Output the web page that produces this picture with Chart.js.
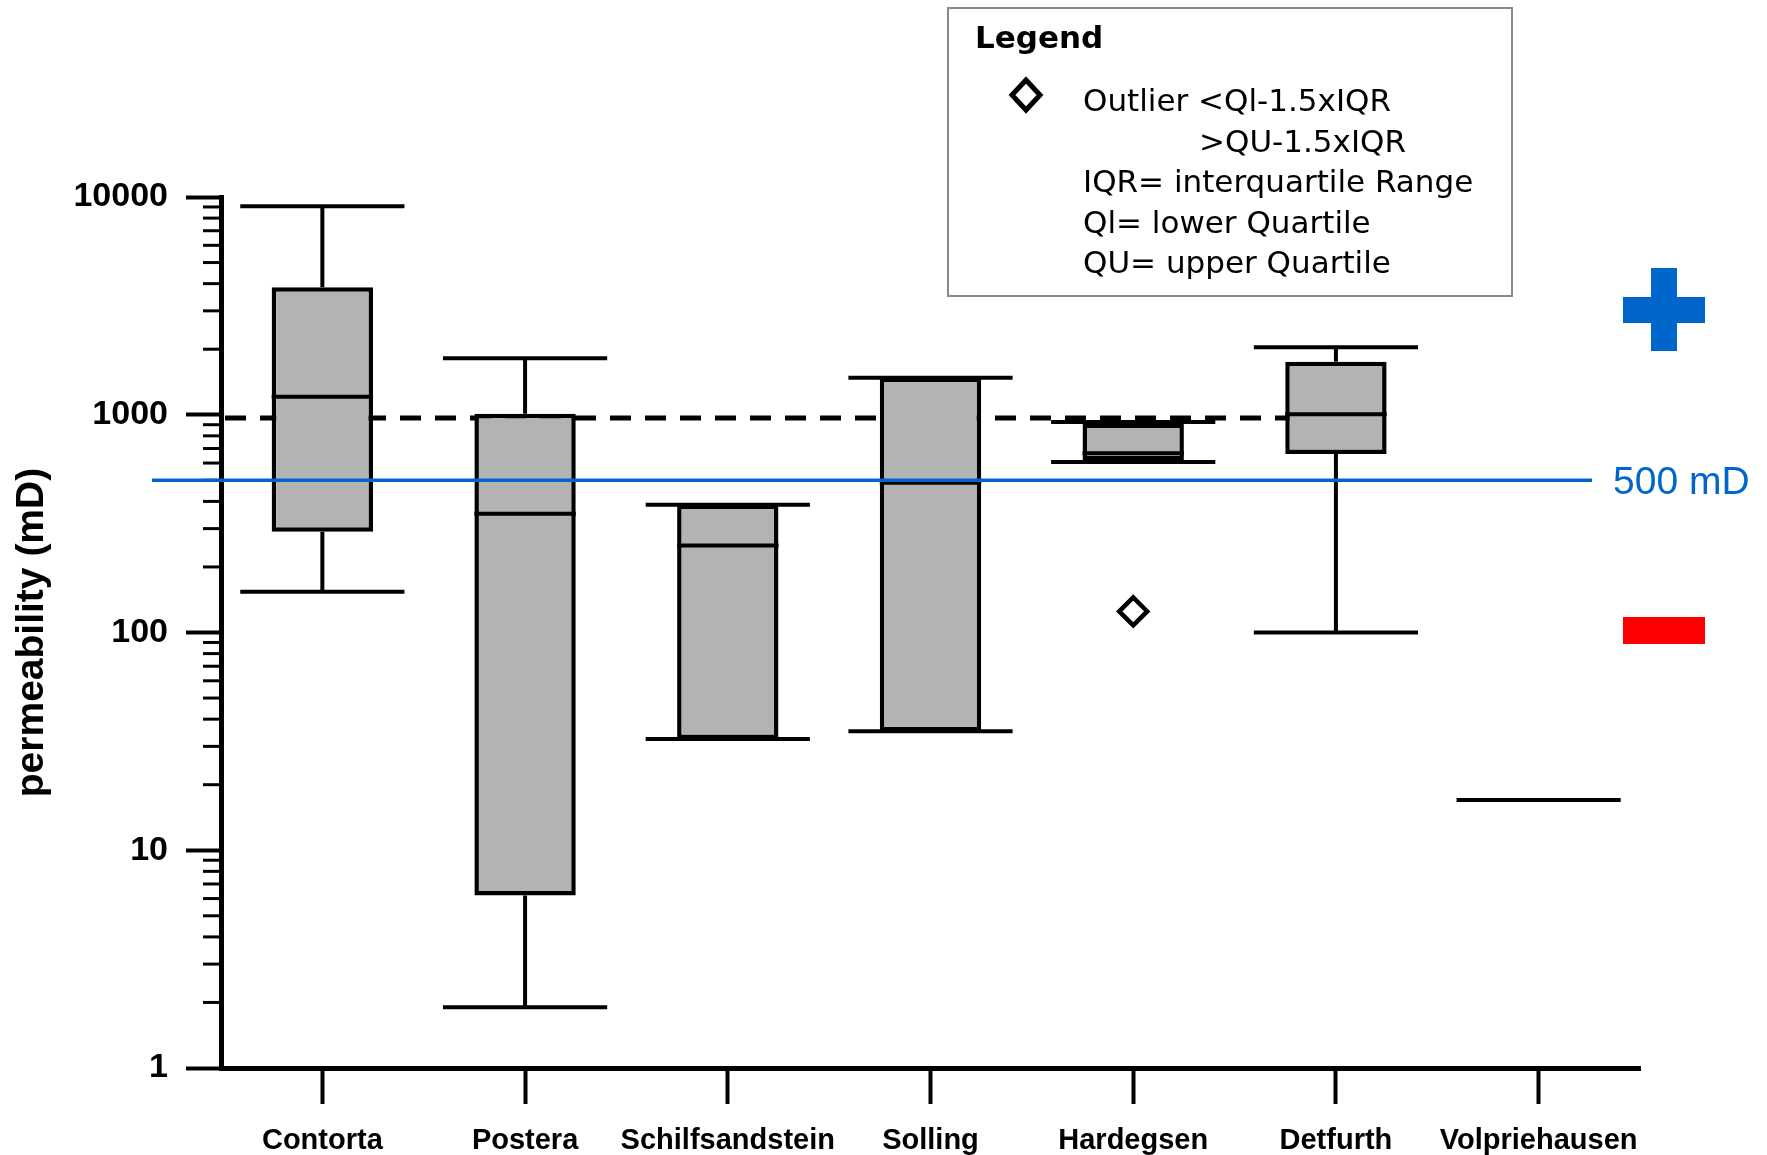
<!DOCTYPE html>
<html>
<head>
    <title>Permeability box plot</title>
    <script src="https://cdn.jsdelivr.net/npm/chart.js"></script>
    <style>
        body { margin: 0; background: #fff; }
    </style>
</head>
<body>
    <canvas id="permChart" width="1767" height="1155"></canvas>

    <script>
        // Formations on the x axis
        const categories = ['Contorta', 'Postera', 'Schilfsandstein', 'Solling', 'Hardegsen', 'Detfurth', 'Volpriehausen'];

        // Box plot statistics (mD)
        const whiskerLow  = [154, 1.9, 32.4, 35.2, 606, 100, 17];
        const lowerQuart  = [290, 6.2, 32.4, 35.2, 616, 661, null];
        const medians     = [1210, 351, 251, 487, 665, 1004, 17];
        const upperQuart  = [3850, 1010, 386, 1480, 910, 1753, null];
        const whiskerHigh = [9060, 1816, 386, 1480, 927, 2042, 17];
        const outliers    = [null, null, null, null, 125, null, null];

        // y axis tick labels (log scale)
        const yTicks = [1, 10, 100, 1000, 10000];

        // reference lines
        const dashedLevel = 965;
        const cutoffLevel = 500;
        const cutoffLabel = '500 mD';

        // legend text
        const legendTitle = 'Legend';
        const legendLines = [
            ['Outlier <Ql-1.5xIQR', 0],
            ['>QU-1.5xIQR', 1],
            ['IQR= interquartile Range', 0],
            ['Ql= lower Quartile', 0],
            ['QU= upper Quartile', 0]
        ];

        const boxPlugin = {
            id: 'boxWhiskers',
            beforeDatasetsDraw(chart) {
                const ctx = chart.ctx;
                const x = chart.scales.x, y = chart.scales.y;
                // dashed line runs under the boxes, up to Detfurth
                const yy = y.getPixelForValue(dashedLevel);
                ctx.save();
                ctx.strokeStyle = '#000';
                ctx.lineWidth = 5;
                ctx.setLineDash([21, 14]);
                ctx.beginPath();
                ctx.moveTo(chart.chartArea.left + 4, yy);
                ctx.lineTo(x.getPixelForValue(5), yy);
                ctx.stroke();
                ctx.restore();
            },
            afterDatasetsDraw(chart) {
                const ctx = chart.ctx;
                const x = chart.scales.x, y = chart.scales.y;
                const step = x.getPixelForValue(1) - x.getPixelForValue(0);
                const capHalf = step * 0.405;
                const boxHalf = step * 0.25;
                ctx.save();
                ctx.strokeStyle = '#000';
                ctx.lineCap = 'butt';
                categories.forEach((c, i) => {
                    const cx = x.getPixelForValue(i);
                    const lo = y.getPixelForValue(whiskerLow[i]);
                    const hi = y.getPixelForValue(whiskerHigh[i]);
                    const q1 = lowerQuart[i] == null ? lo : y.getPixelForValue(lowerQuart[i]);
                    const q3 = upperQuart[i] == null ? hi : y.getPixelForValue(upperQuart[i]);
                    ctx.lineWidth = 4;
                    ctx.beginPath();
                    ctx.moveTo(cx, q3); ctx.lineTo(cx, hi);
                    ctx.moveTo(cx, q1); ctx.lineTo(cx, lo);
                    ctx.stroke();
                    ctx.beginPath();
                    ctx.moveTo(cx - capHalf, hi); ctx.lineTo(cx + capHalf, hi);
                    ctx.moveTo(cx - capHalf, lo); ctx.lineTo(cx + capHalf, lo);
                    ctx.stroke();
                    if (lowerQuart[i] != null) {
                        const m = y.getPixelForValue(medians[i]);
                        ctx.beginPath();
                        ctx.moveTo(cx - boxHalf, m); ctx.lineTo(cx + boxHalf, m);
                        ctx.stroke();
                    }
                });
                ctx.restore();
            },
            afterDraw(chart) {
                const ctx = chart.ctx;
                const y = chart.scales.y;
                const area = chart.chartArea;
                ctx.save();

                // minor ticks on the log axis
                ctx.strokeStyle = '#000';
                ctx.lineWidth = 3;
                for (let d = 1; d < 10000; d *= 10) {
                    for (let k = 2; k <= 9; k++) {
                        const py = y.getPixelForValue(k * d);
                        ctx.beginPath();
                        ctx.moveTo(area.left - 18, py);
                        ctx.lineTo(area.left, py);
                        ctx.stroke();
                    }
                }

                // 500 mD cutoff line
                const cy = y.getPixelForValue(cutoffLevel);
                ctx.strokeStyle = '#0066cc';
                ctx.lineWidth = 3.5;
                ctx.beginPath();
                ctx.moveTo(152, cy);
                ctx.lineTo(1592, cy);
                ctx.stroke();
                ctx.fillStyle = '#0066cc';
                ctx.font = '39px "Liberation Sans", Arial, sans-serif';
                ctx.textBaseline = 'alphabetic';
                ctx.fillText(cutoffLabel, 1613, cy + 14);

                // plus / minus markers
                ctx.fillStyle = '#0066cc';
                ctx.fillRect(1623, 297, 82, 26);
                ctx.fillRect(1651, 268, 26, 83);
                ctx.fillStyle = '#ff0000';
                ctx.fillRect(1623, 617, 82, 27);

                // legend box
                ctx.strokeStyle = '#8a8a8a';
                ctx.lineWidth = 2;
                ctx.strokeRect(948, 8, 564, 288);
                ctx.fillStyle = '#000';
                ctx.font = 'bold 31px "DejaVu Sans", sans-serif';
                ctx.fillText(legendTitle, 975, 48);
                ctx.font = '31px "DejaVu Sans", sans-serif';
                legendLines.forEach((l, i) => {
                    ctx.fillText(l[0], l[1] ? 1199 : 1083, 111 + i * 40.6);
                });
                // legend diamond
                ctx.strokeStyle = '#000';
                ctx.lineWidth = 5;
                ctx.fillStyle = '#fff';
                ctx.beginPath();
                ctx.moveTo(1026, 80); ctx.lineTo(1040, 95);
                ctx.lineTo(1026, 110); ctx.lineTo(1012, 95);
                ctx.closePath();
                ctx.fill(); ctx.stroke();

                ctx.restore();
            }
        };

        const ctx = document.getElementById('permChart').getContext('2d');
        new Chart(ctx, {
            type: 'bar',
            data: {
                labels: categories,
                datasets: [{
                    label: 'box',
                    data: lowerQuart.map((v, i) => v == null ? null : [v, upperQuart[i]]),
                    backgroundColor: '#b3b3b3',
                    borderColor: '#000',
                    borderWidth: 4.5,
                    borderSkipped: false,
                    barPercentage: 0.5,
                    categoryPercentage: 1.0,
                    order: 2
                }, {
                    type: 'line',
                    label: 'outliers',
                    data: outliers,
                    showLine: false,
                    pointStyle: 'rectRot',
                    pointRadius: 14,
                    pointBorderWidth: 4.5,
                    pointBackgroundColor: '#fff',
                    pointBorderColor: '#000',
                    order: 1
                }]
            },
            options: {
                responsive: false,
                animation: false,
                layout: { padding: { top: 197, right: 127, left: 0, bottom: 0 } },
                plugins: {
                    legend: { display: false },
                    tooltip: { enabled: false }
                },
                scales: {
                    x: {
                        type: 'category',
                        offset: true,
                        afterFit: (scale) => { scale.height = 87; },
                        grid: {
                            display: true,
                            offset: false,
                            drawOnChartArea: false,
                            drawTicks: true,
                            tickLength: 36,
                            tickWidth: 4,
                            tickColor: '#000'
                        },
                        border: { display: true, color: '#000', width: 5 },
                        ticks: {
                            color: '#000',
                            padding: 20,
                            maxRotation: 0,
                            autoSkip: false,
                            font: { family: '"Liberation Sans", Arial, sans-serif', size: 29, weight: 'bold' }
                        }
                    },
                    y: {
                        type: 'logarithmic',
                        min: 1,
                        max: 10000,
                        afterFit: (scale) => { scale.width = 221; },
                        afterBuildTicks: (scale) => { scale.ticks = yTicks.map(v => ({ value: v })); },
                        grid: {
                            display: true,
                            drawOnChartArea: false,
                            drawTicks: true,
                            tickLength: 35,
                            tickWidth: 4,
                            tickColor: '#000'
                        },
                        border: { display: true, color: '#000', width: 5 },
                        ticks: {
                            color: '#000',
                            padding: 18,
                            callback: (v) => String(v),
                            font: { family: '"Liberation Sans", Arial, sans-serif', size: 34, weight: 'bold' }
                        },
                        title: {
                            display: true,
                            text: 'permeability (mD)',
                            color: '#000',
                            padding: { top: 9, bottom: 0 },
                            font: { family: '"Liberation Sans", Arial, sans-serif', size: 39, weight: 'bold' }
                        }
                    }
                }
            },
            plugins: [boxPlugin]
        });
    </script>
</body>
</html>
